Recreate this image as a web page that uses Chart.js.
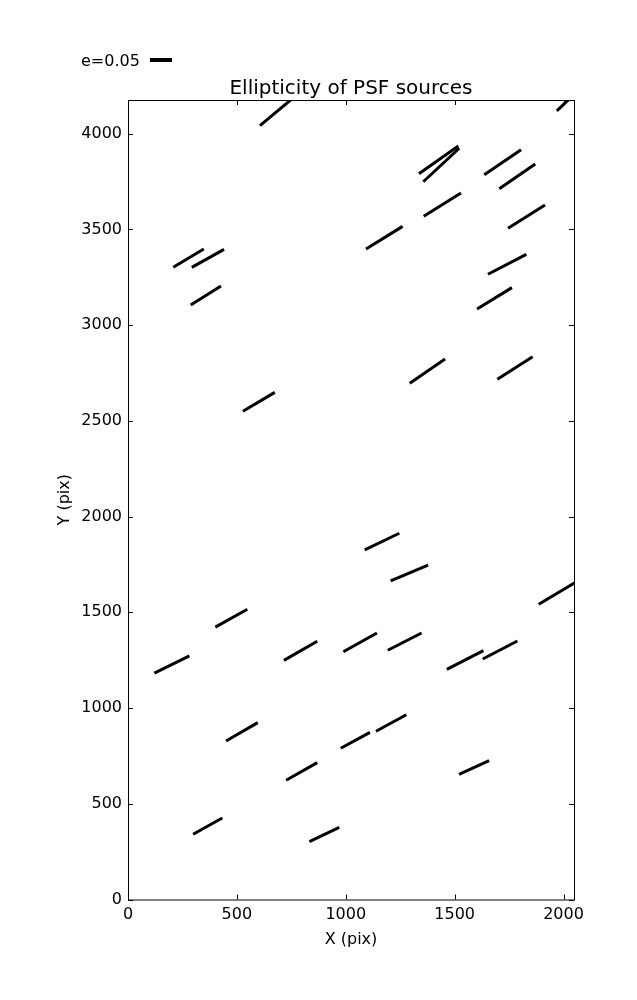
<!DOCTYPE html>
<html>
<head>
<meta charset="utf-8">
<script src="https://cdn.jsdelivr.net/npm/chart.js@4.4.1/dist/chart.umd.min.js"></script>
<style>
html, body { margin: 0; padding: 0; background: #fff; }
canvas { display: block; }
</style>
</head>
<body>
<canvas id="myChart" width="637" height="1000"></canvas>
<script>
// whisker end points (CCD pixels), one entry per PSF source
const startX = [606, 1969, 1336, 1356, 1636, 1705, 1358, 1093, 1745, 208, 293, 288, 1653, 1603, 1294, 1696, 528,
    1087, 1206, 1886, 401, 121, 716, 989, 1193, 1464, 1629, 450, 977, 1139, 726, 1520, 299, 833];
const startY = [4042, 4119, 3791, 3749, 3786, 3713, 3569, 3398, 3506, 3302, 3302, 3105, 3266, 3084, 2696, 2717, 2550,
    1826, 1664, 1542, 1423, 1182, 1249, 1294, 1302, 1202, 1256, 828, 790, 879, 623, 654, 341, 302];
const endX = [770, 2040, 1517, 1521, 1805, 1870, 1529, 1261, 1915, 348, 441, 427, 1829, 1763, 1456, 1858, 674,
    1246, 1378, 2080, 548, 282, 869, 1143, 1348, 1632, 1788, 596, 1111, 1278, 869, 1658, 433, 970];
const endY = [4198, 4196, 3936, 3924, 3916, 3842, 3690, 3516, 3628, 3398, 3396, 3205, 3370, 3196, 2823, 2835, 2649,
    1913, 1747, 1673, 1516, 1273, 1349, 1392, 1392, 1300, 1350, 924, 873, 965, 715, 725, 426, 377];

const xTicks = [0, 500, 1000, 1500, 2000];
const yTicks = [0, 500, 1000, 1500, 2000, 2500, 3000, 3500, 4000];
const xMax = 2048;
const yMax = 4176;
const keyLabel = 'e=0.05';

const font = 'DejaVu Sans';

const datasets = startX.map((x, i) => ({
    data: [{ x: x, y: startY[i] }, { x: endX[i], y: endY[i] }],
    borderColor: '#000',
    borderWidth: 3,
    borderCapStyle: 'butt',
    pointRadius: 0,
    fill: false,
    clip: 0
}));

const frame = {
    id: 'frame',
    afterDraw(chart) {
        const ctx = chart.ctx;
        const a = chart.chartArea;
        const xs = chart.scales.x;
        const ys = chart.scales.y;
        ctx.save();
        ctx.strokeStyle = '#000';
        ctx.lineWidth = 1;
        ctx.strokeRect(a.left + 0.5, a.top + 0.5, a.right - a.left, a.bottom - a.top);
        ctx.beginPath();
        for (const v of xTicks) {
            const p = Math.round(xs.getPixelForValue(v)) + 0.5;
            ctx.moveTo(p, a.bottom); ctx.lineTo(p, a.bottom - 5);
            ctx.moveTo(p, a.top); ctx.lineTo(p, a.top + 5);
        }
        for (const v of yTicks) {
            const p = Math.round(ys.getPixelForValue(v)) + 0.5;
            ctx.moveTo(a.left, p); ctx.lineTo(a.left + 5, p);
            ctx.moveTo(a.right, p); ctx.lineTo(a.right - 5, p);
        }
        ctx.stroke();

        ctx.fillStyle = '#000';
        ctx.textAlign = 'center';
        ctx.textBaseline = 'alphabetic';
        ctx.font = '20px "' + font + '"';
        ctx.fillText('Ellipticity of PSF sources', (a.left + a.right) / 2, 94);

        ctx.font = '16px "' + font + '"';
        ctx.fillText('X (pix)', (a.left + a.right) / 2, 944);
        ctx.save();
        ctx.translate(69, (a.top + a.bottom) / 2);
        ctx.rotate(-Math.PI / 2);
        ctx.fillText('Y (pix)', 0, 0);
        ctx.restore();

        // quiver key
        ctx.textAlign = 'left';
        ctx.fillText(keyLabel, 81, 66);
        ctx.fillRect(150, 58, 22, 4);
        ctx.restore();
    }
};

const ctx = document.getElementById('myChart').getContext('2d');
const chart = new Chart(ctx, {
    type: 'line',
    data: { datasets: datasets },
    options: {
        responsive: false,
        animation: false,
        layout: { padding: { top: 100, right: 63, left: 0, bottom: 0 } },
        plugins: { legend: { display: false }, tooltip: { enabled: false }, title: { display: false } },
        scales: {
            x: {
                type: 'linear',
                min: 0,
                max: xMax,
                grid: { display: false, drawTicks: false },
                border: { display: false },
                afterBuildTicks: s => { s.ticks = xTicks.map(v => ({ value: v })); },
                afterFit: s => { s.height = 100.5; },
                ticks: { color: '#000', font: { family: font, size: 16 }, padding: 6, maxRotation: 0, callback: v => String(v) }
            },
            y: {
                type: 'linear',
                min: 0,
                max: yMax,
                grid: { display: false, drawTicks: false },
                border: { display: false },
                afterBuildTicks: s => { s.ticks = yTicks.map(v => ({ value: v })); },
                afterFit: s => { s.width = 128; },
                ticks: { color: '#000', font: { family: font, size: 16 }, padding: 6, callback: v => String(v) }
            }
        }
    },
    plugins: [frame]
});
</script>
</body>
</html>
